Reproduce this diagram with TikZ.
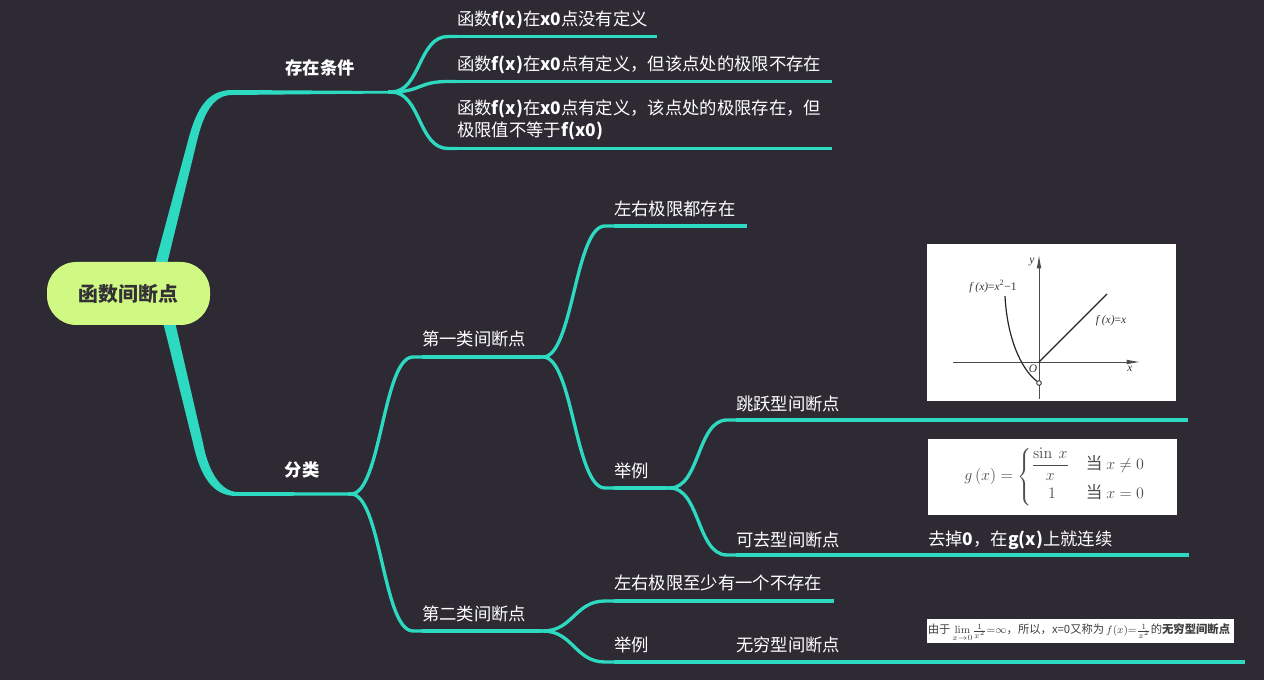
\documentclass[tikz,border=0pt]{standalone}
\usepackage{amsmath}
\usepackage[no-math]{fontspec}
\usetikzlibrary{arrows.meta}
\setmainfont{Noto Sans CJK SC}
\newfontfamily\tnr{Liberation Serif}
\definecolor{bgc}{HTML}{2E2A33}
\definecolor{teal}{HTML}{2DD9C0}
\definecolor{rootc}{HTML}{D0F984}
\definecolor{ink}{HTML}{333036}
\tikzset{
  lbl/.style={text=white,anchor=west,inner sep=0pt,yshift=-0.75pt,font=\fontsize{13pt}{17pt}\selectfont,align=left},
  head/.style={text=white,anchor=center,inner sep=0pt,yshift=-0.4pt,font=\fontsize{13pt}{17pt}\selectfont\bfseries},
  rootn/.style={fill=rootc,rounded corners=22pt,minimum width=122.25pt,minimum height=47.25pt,inner sep=0pt,text=ink,font=\fontsize{14.9pt}{18pt}\selectfont\bfseries},
  br/.style={draw=teal,line width=2.5pt,line join=round},
  photo/.style={fill=white,draw=none},
  inkline/.style={draw=black!70,line width=.6pt},
  mth/.style={inner sep=0pt,text=black!80,font=\fontsize{8.6pt}{9pt}\tnr\itshape},
}
\newcommand{\bb}[1]{\textbf{#1}}
\newcommand{\curve}[2]{\path (#2) ++(-9,0) coordinate (cv);
  \draw[br] (#1) -- ++(3,0) .. controls +(30,0) and +(-30,0) .. (cv) -- (#2);}
\begin{document}
\begin{tikzpicture}[x=0.75pt,y=-0.75pt]
\fill[bgc] (0,0) rectangle (1264,680);
\useasboundingbox (0,0) rectangle (1264,680);

% junctions and branch ends
\coordinate (j1) at (388,92);
\coordinate (a1) at (457,36.5);  \coordinate (a1e) at (657,36.5);
\coordinate (a2) at (457,81.5);  \coordinate (a2e) at (832,81.5);
\coordinate (a3) at (457,148.5); \coordinate (a3e) at (832,148.5);
\coordinate (j2) at (348,494);
\coordinate (b1) at (422,357); \coordinate (j3) at (540,357);
\coordinate (b2) at (422,631); \coordinate (j4) at (540,631);
\coordinate (c1) at (614,226); \coordinate (c1e) at (747,226);
\coordinate (c2) at (614,488); \coordinate (j5) at (667,488);
\coordinate (d1) at (736,420); \coordinate (d1e) at (1188,420);
\coordinate (d2) at (736,555); \coordinate (d2e) at (1189,555);
\coordinate (e1) at (614,601); \coordinate (e1e) at (834,601);
\coordinate (e2) at (614,662); \coordinate (e2e) at (1245,662);

% tapered main branches
\fill[teal] (155,264) -- (189,137) .. controls (197,108) and (208,90) .. (232,90)
  -- (390,91) -- (390,93.5) -- (232,95) .. controls (215,95) and (205,110) .. (198,137) -- (167,264) -- cycle;
\fill[teal] (163,322) -- (193,443) .. controls (200,475) and (212,497) .. (238,496)
  -- (350,495.5) -- (350,492.5) -- (238,492) .. controls (220,492) and (208,470) .. (203,443) -- (175,322) -- cycle;

% thin branches
\curve{j1}{a1} \draw[br] (a1) -- (a1e);
\curve{j1}{a2} \draw[br] (a2) -- (a2e);
\curve{j1}{a3} \draw[br] (a3) -- (a3e);
\curve{j2}{b1} \draw[br] (b1) -- (j3);
\curve{j2}{b2} \draw[br] (b2) -- (j4);
\curve{j3}{c1} \draw[br] (c1) -- (c1e);
\curve{j3}{c2} \draw[br] (c2) -- (j5);
\curve{j5}{d1} \draw[br] (d1) -- (d1e);
\curve{j5}{d2} \draw[br] (d2) -- (d2e);
\curve{j4}{e1} \draw[br] (e1) -- (e1e);
\curve{j4}{e2} \draw[br] (e2) -- (e2e);

% root and labels
\node[rootn] (root) at (128.5,293.5) {函数间断点};
\node[head] (h1) at (320,67) {存在条件};
\node[head] (h2) at (302,469) {分类};
\node[lbl] (t1) at (457,19) {函数\bb{f(x)}在\bb{x0}点没有定义};
\node[lbl] (t2) at (457,64) {函数\bb{f(x)}在\bb{x0}点有定义，但该点处的极限不存在};
\node[lbl] (t3) at (457,119) {函数\bb{f(x)}在\bb{x0}点有定义，该点处的极限存在，但\\极限值不等于\bb{f(x0)}};
\node[lbl] (t4) at (422,338) {第一类间断点};
\node[lbl] (t5) at (422,613) {第二类间断点};
\node[lbl] (t6) at (614,208) {左右极限都存在};
\node[lbl] (t7) at (614,470) {举例};
\node[lbl] (t8) at (736,403) {跳跃型间断点};
\node[lbl] (t9) at (736,539) {可去型间断点};
\node[lbl] (t10) at (928,539) {去掉\bb{0}，在\bb{g(x)}上就连续};
\node[lbl] (t11) at (614,582) {左右极限至少有一个不存在};
\node[lbl] (t12) at (614,644) {举例};
\node[lbl] (t13) at (736,644) {无穷型间断点};

% picture 1: graph
\fill[photo] (927,244) rectangle (1176,401);
\coordinate (o) at (1039,362);
\coordinate (xs) at (953,362); \coordinate (xe) at (1140,362);
\coordinate (ys) at (1039,399); \coordinate (ye) at (1039,255);
\draw[inkline,-{Latex[length=10pt,width=3.5pt]}] (xs) -- (xe);
\draw[inkline,-{Latex[length=10pt,width=3.5pt]}] (ys) -- (ye);
\coordinate (ls) at (1107,294);
\draw[black!85,line width=.9pt] (o) -- (ls);
\coordinate (cs) at (1005,296);
\node[circle,draw=black!85,fill=white,line width=.6pt,minimum size=3.5pt,inner sep=0pt] (hole) at (1039,383) {};
\draw[black!85,line width=.9pt] (cs) .. controls (1007,336) and (1020,368) .. (hole);
\node[mth] (gy) at (1032,262) {y};
\node[mth] (gx) at (1130,369) {x};
\node[mth] (go) at (1033,369) {O};
\node[mth] (gf1) at (993,287) {f (x)\upshape =\itshape x\textsuperscript{\upshape 2}\upshape −1};
\node[mth] (gf2) at (1111,321) {f (x)\upshape =\itshape x};

% picture 2: formula
\fill[photo] (928,439) rectangle (1177,515);
\node[inner sep=0pt,text=black!70,font=\fontsize{12.5pt}{15pt}\selectfont] (fm) at (1055,477)
 {$g\,(x)=\begin{cases}\dfrac{\sin\ x}{x} & \text{\fontsize{12.5pt}{15pt}\selectfont 当}\ x\neq 0\\[4pt] \quad 1 & \text{\fontsize{12.5pt}{15pt}\selectfont 当}\ x=0\end{cases}$};

% picture 3: strip
\fill[photo] (927,619) rectangle (1234,643);
\node[anchor=west,inner sep=0pt,text=black!75,font=\fontsize{8.5pt}{9pt}\selectfont] (st) at (927.5,631)
 {由于\,$\smash{\lim\limits_{x\to 0}}\frac{1}{x^2}{=}\infty$，所以，x=0又称为\,$f(x){=}\frac{1}{x^2}$的\textbf{无穷型间断点}};
\end{tikzpicture}
\end{document}
